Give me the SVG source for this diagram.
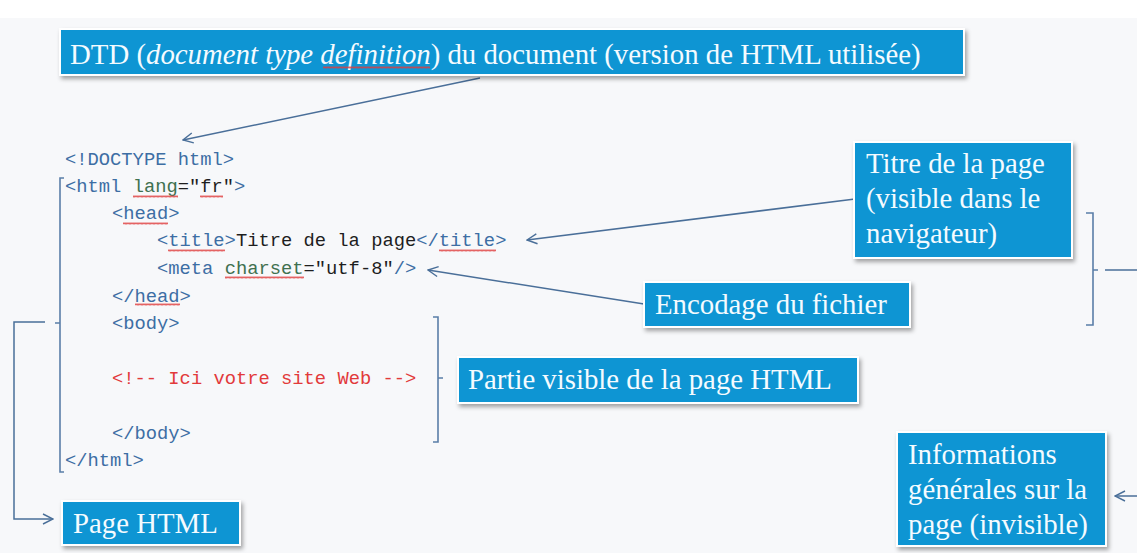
<svg xmlns="http://www.w3.org/2000/svg" width="1137" height="553" viewBox="0 0 1137 553">
<style>
.box{fill:#0e95d3}
.frame{fill:#ffffff;filter:url(#sh)}
.lbl{font-family:"Liberation Serif","Times New Roman",serif;font-size:28.8px;fill:#f4fbff}
.code{font-family:"Liberation Mono","Courier New",monospace;font-size:18.8px;fill:#3d6ea4;white-space:pre}
.blk{fill:#1e1e1e}
.att{fill:#3f7150}
.cmt{fill:#e23a3a}
.ln{fill:none;stroke:#4a6f99;stroke-width:1.5}
.br{fill:none;stroke:#5a7ea8;stroke-width:1.6}
.wv{fill:url(#wave)}
</style>
<defs>
<filter id="sh" x="-5%" y="-20%" width="115%" height="150%">
<feDropShadow dx="2" dy="3" stdDeviation="2" flood-color="#000" flood-opacity="0.35"/>
</filter>
<pattern id="wave" width="4" height="3" patternUnits="userSpaceOnUse">
<path d="M0,2.5 L1,0.5 L2,2.5 L3,0.5 L4,2.5" fill="none" stroke="#e03c3c" stroke-width="0.8"/>
</pattern>
<marker id="arr" viewBox="0 0 12 12" refX="11" refY="6" markerWidth="12" markerHeight="12" markerUnits="userSpaceOnUse" orient="auto">
<path d="M1,1 L11,6 L1,11" fill="none" stroke="#4a6f99" stroke-width="1.4"/>
</marker>
</defs>
<rect width="1137" height="553" fill="#f7f8fa"/>
<rect width="1137" height="18" fill="#ffffff"/>

<g id="code">
<text class="code" x="65" y="165">&lt;!DOCTYPE html&gt;</text>
<text class="code" x="65" y="192">&lt;html <tspan class="att">lang</tspan><tspan class="blk">="fr"</tspan>&gt;</text>
<text class="code" x="112" y="219">&lt;head&gt;</text>
<text class="code" x="157" y="246">&lt;title&gt;<tspan class="blk">Titre de la page</tspan>&lt;/title&gt;</text>
<text class="code" x="157" y="274">&lt;meta <tspan class="att">charset</tspan><tspan class="blk">="utf-8"</tspan>/&gt;</text>
<text class="code" x="112" y="302">&lt;/head&gt;</text>
<text class="code" x="112" y="329">&lt;body&gt;</text>
<text class="code cmt" x="112" y="384">&lt;!-- Ici votre site Web --&gt;</text>
<text class="code" x="112" y="439">&lt;/body&gt;</text>
<text class="code" x="65" y="466">&lt;/html&gt;</text>
<rect class="wv" x="133" y="195" width="45" height="3"/>
<rect class="wv" x="200" y="195" width="23" height="3"/>
<rect class="wv" x="123" y="222" width="45" height="3"/>
<rect class="wv" x="168" y="249" width="57" height="3"/>
<rect class="wv" x="439" y="249" width="57" height="3"/>
<rect class="wv" x="225" y="276" width="79" height="3"/>
<rect class="wv" x="135" y="303" width="45" height="3"/>
</g>

<g id="connectors">
<line class="ln" x1="480" y1="78" x2="183" y2="140" marker-end="url(#arr)"/>
<line class="ln" x1="855" y1="199" x2="527" y2="240" marker-end="url(#arr)"/>
<line class="ln" x1="644" y1="304" x2="428" y2="270" marker-end="url(#arr)"/>
<path class="br" d="M64,178 H60 V472 H64 M60,323 H55"/>
<path class="br" d="M433,317 H438 V442 H433 M438,378 H443"/>
<path class="br" d="M1086,213 H1093 V325 H1086 M1093,270 H1098"/>
<line class="ln" x1="1105" y1="270" x2="1137" y2="270"/>
<line class="ln" x1="1137" y1="496" x2="1115" y2="496" marker-end="url(#arr)"/>
<path class="ln" d="M45,322 H14 V519 H53" marker-end="url(#arr)"/>
</g>

<g id="dtd">
<rect class="frame" x="59" y="28" width="906" height="48"/>
<rect class="box" x="61" y="30" width="902" height="44"/>
<text class="lbl" x="70" y="64">DTD (<tspan font-style="italic">document type definition</tspan>) du document (version de HTML utilisée)</text>
<rect class="wv" x="323" y="66" width="107" height="3"/>
</g>

<g id="titre">
<rect class="frame" x="853" y="141" width="220" height="118"/>
<rect class="box" x="855" y="143" width="216" height="114"/>
<text class="lbl" x="866" y="173">Titre de la page</text>
<text class="lbl" x="866" y="208">(visible dans le</text>
<text class="lbl" x="866" y="243">navigateur)</text>
</g>

<g id="encodage">
<rect class="frame" x="643" y="281" width="268" height="47"/>
<rect class="box" x="645" y="283" width="264" height="43"/>
<text class="lbl" x="655" y="314">Encodage du fichier</text>
</g>

<g id="partie">
<rect class="frame" x="457" y="356" width="402" height="48"/>
<rect class="box" x="459" y="358" width="398" height="44"/>
<text class="lbl" x="468" y="389">Partie visible de la page HTML</text>
</g>

<g id="infos">
<rect class="frame" x="896" y="431" width="211" height="116"/>
<rect class="box" x="898" y="433" width="207" height="112"/>
<text class="lbl" x="908" y="464">Informations</text>
<text class="lbl" x="908" y="499">générales  sur la</text>
<text class="lbl" x="908" y="534">page  (invisible)</text>
</g>

<g id="page">
<rect class="frame" x="61" y="500" width="180" height="46"/>
<rect class="box" x="63" y="502" width="176" height="42"/>
<text class="lbl" x="73" y="533">Page HTML</text>
</g>
</svg>
